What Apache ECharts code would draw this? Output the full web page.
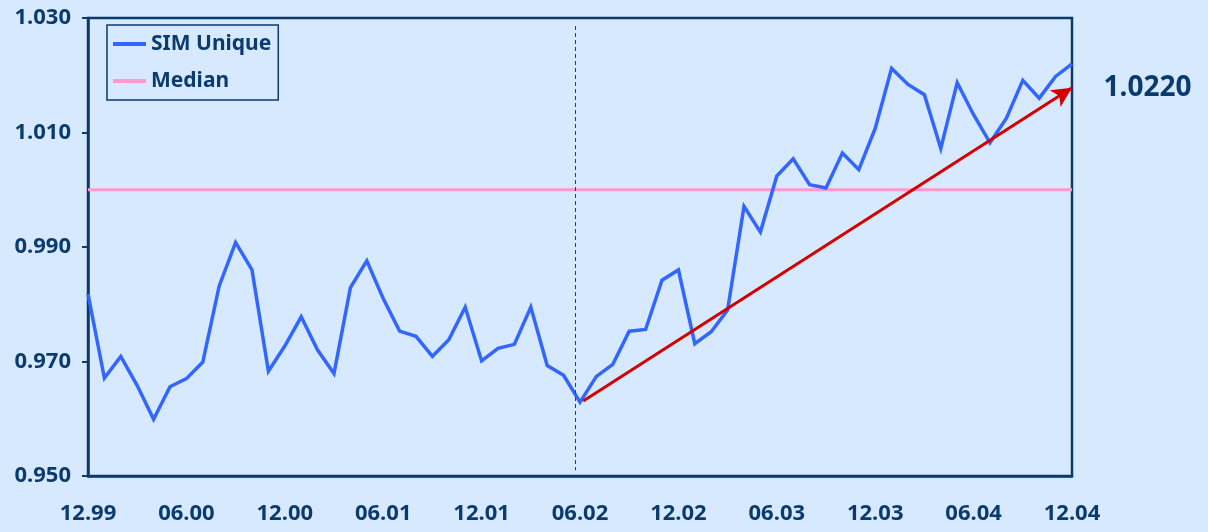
<!DOCTYPE html>
<html>
<head>
<meta charset="utf-8">
<title>SIM Unique</title>
<script src="https://cdn.jsdelivr.net/npm/echarts@6/dist/echarts.min.js"></script>
<style>
  html, body { margin: 0; padding: 0; background: #d7e9fe; }
  #chart { width: 1208px; height: 532px; }
</style>
</head>
<body>
<div id="chart"></div>
<script>
// Monthly index values, Dec 1999 .. Dec 2004 (61 months)
const simUnique = [
  0.9818, 0.9671, 0.9709, 0.9658, 0.9599, 0.9656, 0.9670, 0.9699, 0.9832, 0.9908,
  0.9860, 0.9683, 0.9727, 0.9778, 0.9720, 0.9679, 0.9829, 0.9876, 0.9810, 0.9753,
  0.9744, 0.9709, 0.9738, 0.9795, 0.9701, 0.9723, 0.9730, 0.9795, 0.9693, 0.9676,
  0.9629, 0.9674, 0.9695, 0.9753, 0.9756, 0.9842, 0.9860, 0.9731, 0.9752, 0.9790,
  0.9971, 0.9926, 1.0024, 1.0054, 1.0009, 1.0003, 1.0064, 1.0035, 1.0107, 1.0212,
  1.0184, 1.0166, 1.0072, 1.0187, 1.0131, 1.0082, 1.0125, 1.0191, 1.0160, 1.0198,
  1.0220
];
const medianValue = 1.000;

// Half-year tick labels (every 6th month)
const xTickLabels = ['12.99', '06.00', '12.00', '06.01', '12.01', '06.02',
                     '12.02', '06.03', '12.03', '06.04', '12.04'];
const yTickValues = [0.950, 0.970, 0.990, 1.010, 1.030];

// Trend arrow from the 06.02 low to the end of the period (month index, value)
const trendStart = [30.2, 0.9631];
const trendEnd = [60, 1.0178];
// Regime split marker (month index)
const splitMonth = 29.7;

const navy = '#0b3a6e';
const fontFamily = '"Noto Sans", "Open Sans", sans-serif';
const lastIndex = simUnique.length - 1;

const chart = echarts.init(document.getElementById('chart'), null, { renderer: 'canvas' });

chart.setOption({
  backgroundColor: '#d7e9fe',
  animation: false,
  textStyle: { fontFamily: fontFamily },
  grid: {
    left: 88, right: 136, top: 18, bottom: 56,
    show: true, borderColor: navy, borderWidth: 2.5, backgroundColor: 'transparent'
  },
  legend: {
    data: ['SIM Unique', 'Median'],
    orient: 'vertical',
    left: 107, top: 25,
    padding: [8, 7, 8, 6],
    itemGap: 15,
    itemWidth: 33, itemHeight: 4,
    icon: 'rect',
    borderColor: navy, borderWidth: 1.5,
    textStyle: { color: navy, fontSize: 21, fontWeight: 'bold', fontFamily: fontFamily, lineHeight: 22 }
  },
  xAxis: {
    type: 'value',
    min: 0, max: 60, interval: 6,
    axisLine: { show: true, lineStyle: { color: navy, width: 2.5 } },
    axisTick: { show: false },
    splitLine: { show: false },
    axisLabel: {
      color: navy, fontSize: 22, fontWeight: 'bold', margin: 27,
      formatter: v => xTickLabels[Math.round(v / 6)]
    }
  },
  yAxis: {
    type: 'value',
    min: 0.950, max: 1.030,
    axisLine: { show: true, lineStyle: { color: navy, width: 2.5 } },
    axisTick: { show: true, inside: false, length: 6, lineStyle: { color: navy, width: 2 }, customValues: yTickValues },
    splitLine: { show: false },
    axisLabel: {
      color: navy, fontSize: 22, fontWeight: 'bold', margin: 17,
      customValues: yTickValues,
      formatter: v => v.toFixed(3)
    }
  },
  series: [
    {
      name: 'Median',
      type: 'line',
      color: '#ff99cc',
      symbol: 'none',
      data: [[0, medianValue], [60, medianValue]],
      lineStyle: { color: '#ff99cc', width: 3 },
      z: 2
    },
    {
      name: 'trend',
      type: 'line',
      data: [],
      z: 4,
      markLine: {
        silent: true,
        symbol: ['none', 'arrow'],
        symbolSize: [15, 20],
        label: { show: false },
        lineStyle: { color: '#d40000', width: 3, type: 'solid' },
        data: [[{ coord: trendStart }, { coord: trendEnd }]]
      }
    },
    {
      name: 'SIM Unique',
      type: 'line',
      color: '#3366ff',
      symbol: 'none',
      data: simUnique.map((v, i) => [i, v]),
      lineStyle: { color: '#3366ff', width: 3.5, join: 'miter' },
      z: 3,
      markLine: {
        silent: true,
        symbol: ['none', 'none'],
        label: { show: false },
        lineStyle: { color: '#2c3e5c', width: 1, type: [4, 3] },
        data: [[{ coord: [splitMonth, 1.0286] }, { coord: [splitMonth, 0.9510] }]]
      },
      markPoint: {
        silent: true,
        symbol: 'circle',
        symbolSize: 1,
        itemStyle: { color: 'transparent' },
        label: {
          show: true,
          position: 'right',
          distance: 31,
          offset: [0, 24],
          color: navy,
          fontSize: 28,
          fontWeight: 'bold',
          fontFamily: fontFamily,
          formatter: p => p.value.toFixed(4)
        },
        data: [{ coord: [lastIndex, simUnique[lastIndex]], value: simUnique[lastIndex] }]
      }
    }
  ]
});
</script>
</body>
</html>
